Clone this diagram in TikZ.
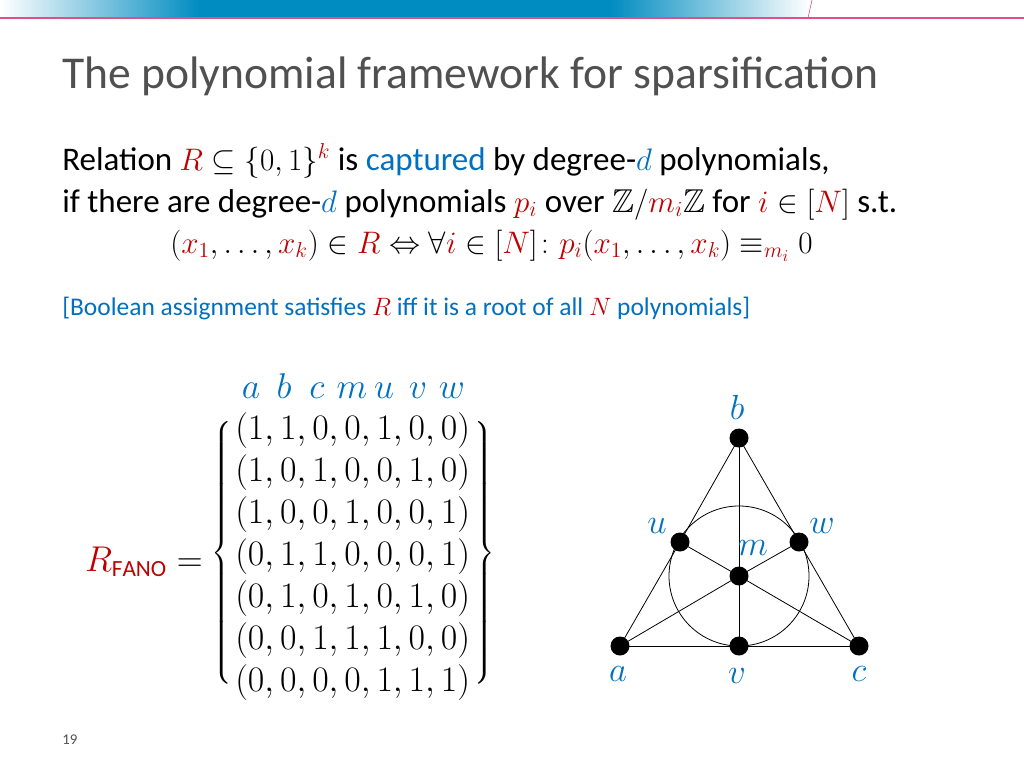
\documentclass[tikz,border=0pt]{standalone}
\usepackage{amsmath,amssymb}
\usepackage{fontspec}
\setmainfont{Carlito}
\usetikzlibrary{positioning}
\definecolor{slideblue}{RGB}{0,112,192}
\definecolor{barblue}{RGB}{0,140,192}
\definecolor{slidered}{RGB}{192,0,0}
\definecolor{titlegray}{RGB}{80,80,80}
\definecolor{barpink}{RGB}{220,80,140}
\newcommand{\rd}[1]{\textcolor{slidered}{#1}}
\newcommand{\bl}[1]{\textcolor{slideblue}{#1}}
\tikzset{
    txt/.style={anchor=base west,inner sep=0pt,scale=1.5,font=\fontsize{22}{26}\selectfont},
    row/.style={anchor=base west,inner sep=0pt,scale=1.44,font=\fontsize{23}{26}\selectfont},
    col/.style={anchor=base,inner sep=0pt,scale=1.44,font=\fontsize{23}{26}\selectfont,text=slideblue},
    dot/.style={circle,fill=black,minimum size=19pt,inner sep=0pt},
    lab/.style={scale=1.4,font=\fontsize{23}{26}\selectfont,text=slideblue,inner sep=0pt},
    edge/.style={draw,line width=0.8pt}
}
\begin{document}
\begin{tikzpicture}[x=1pt,y=-1pt]
    \useasboundingbox (0,0) rectangle (1024,768);

    % header bar
    \shade[left color=white,right color=barblue] (0,0) rectangle (200,18);
    \fill[barblue] (200,0) rectangle (610,18);
    \shade[left color=barblue,right color=white] (610,0) rectangle (810,18);
    \draw[barpink,line width=1.2pt] (0,18) -- (1024,18);
    \draw[barpink,line width=0.6pt] (808,18) -- (812,0);

    % title and text
    \node (title) [txt,scale=0.98,font=\fontsize{31}{36}\selectfont,text=titlegray] at (62,88) {The polynomial framework for sparsification};
    \node (line1) [txt] at (62,170) {Relation $\rd{R}\subseteq\{0,1\}^{\rd{k}}$ is \bl{captured} by degree-$\bl{d}$ polynomials,};
    \node (line2) [txt] at (62,212) {if there are degree-$\bl{d}$ polynomials $\rd{p_i}$ over $\mathbb{Z}/\rd{m_i}\mathbb{Z}$ for $\rd{i}\in[\rd{N}]$ s.t.};
    \node (line3) [txt] at (170,253) {$(\rd{x_1},\dots,\rd{x_k})\in\rd{R}\Leftrightarrow\forall\rd{i}\in[\rd{N}]\colon\rd{p_i}(\rd{x_1},\dots,\rd{x_k})\equiv_{\rd{m_i}}0$};
    \node (note) [txt,scale=0.97,font=\fontsize{17.5}{20}\selectfont,text=slideblue] at (62,315) {[Boolean assignment satisfies $\rd{R}$ iff it is a root of all $\rd{N}$ polynomials]};

    % the relation
    \foreach \c/\x in {a/251,b/284,c/317,m/352,u/384,v/418,w/452}
        \node (col \c) [col] at (\x,398) {$\c$};
    \foreach \t [count=\k] in {{1,1,0,0,1,0,0},{1,0,1,0,0,1,0},{1,0,0,1,0,0,1},{0,1,1,0,0,0,1},{0,1,0,1,0,1,0},{0,0,1,1,1,0,0},{0,0,0,0,1,1,1}}
        \node (row \k) [row] at (235,397+42*\k) {$(\t)$};
    \node (rfano) [anchor=east,inner sep=0pt,scale=1.44,font=\fontsize{23}{26}\selectfont] at (203,562) {$\rd{R_{\mathrm{FANO}}}=$};
    \node (lbrace) [inner sep=0pt,font=\fontsize{23}{26}\selectfont] at (222,553) {$\left\{\rule[-125pt]{0pt}{250pt}\right.$};
    \node (rbrace) [inner sep=0pt,font=\fontsize{23}{26}\selectfont] at (484,553) {$\left.\rule[-125pt]{0pt}{250pt}\right\}$};

    % Fano plane
    \draw[line width=0.8pt] (739,576) circle (70);
    \node (b) [dot] at (739,438) {};
    \node (u) [dot] at (680,542) {};
    \node (w) [dot] at (799,542) {};
    \node (m) [dot] at (739,576) {};
    \node (a) [dot] at (620,646) {};
    \node (v) [dot] at (739,646) {};
    \node (c) [dot] at (859,646) {};
    \foreach \p/\q in {a/u,u/b,b/w,w/c,a/v,v/c,b/m,m/v,a/m,m/w,u/m,m/c}
        \path[edge] (\p.center) -- (\q.center);
    \node [lab] at (737,407) {$b$};
    \node [lab] at (657,526) {$u$};
    \node [lab] at (822,526) {$w$};
    \node [lab] at (753,548) {$m$};
    \node [lab] at (618,674) {$a$};
    \node [lab] at (737,676) {$v$};
    \node [lab] at (859,674) {$c$};

    \node (page) [txt,scale=0.9,font=\fontsize{11}{13}\selectfont,text=titlegray] at (62,744) {19};
\end{tikzpicture}
\end{document}
